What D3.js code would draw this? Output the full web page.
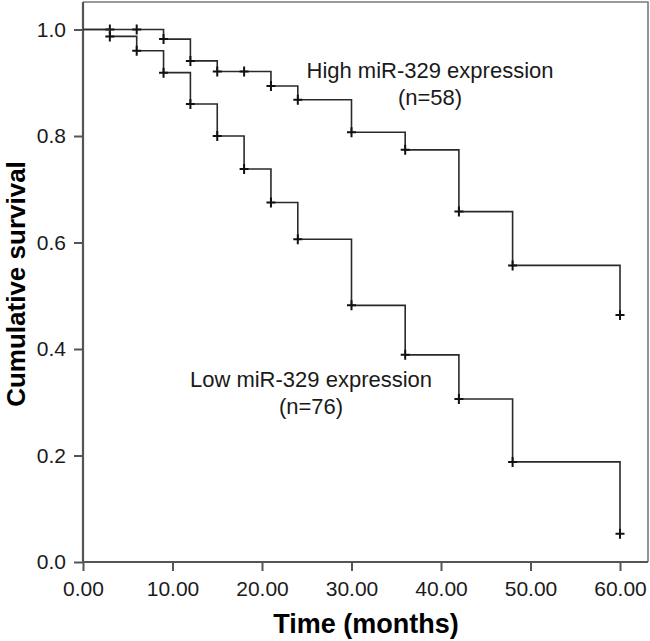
<!DOCTYPE html>
<html>
<head>
<meta charset="utf-8">
<script src="https://cdn.jsdelivr.net/npm/d3@7"></script>
<style>
  body { margin: 0; background: #fff; }
  text { font-family: "Liberation Sans", Arial, sans-serif; }
</style>
</head>
<body>
<script>
// survival curves
var highTime = [0, 9, 12, 15, 21, 24, 30, 36, 42, 48, 60];
var highSurv = [1.0, 0.982, 0.941, 0.921, 0.894, 0.868, 0.807, 0.774, 0.658, 0.557, 0.464];
var highCensor = [3, 6, 9, 12, 15, 18, 21, 24, 30, 36, 42, 48, 60];

var lowTime = [0, 3, 6, 9, 12, 15, 18, 21, 24, 30, 36, 42, 48, 60];
var lowSurv = [1.0, 0.987, 0.960, 0.919, 0.860, 0.800, 0.738, 0.675, 0.606, 0.482, 0.389, 0.306, 0.188, 0.053];
var lowCensor = [3, 6, 9, 12, 15, 18, 21, 24, 30, 36, 42, 48, 60];

var xTicks = [0, 10, 20, 30, 40, 50, 60];
var yTicks = [0, 0.2, 0.4, 0.6, 0.8, 1.0];

var width = 650, height = 641;
// plot box edges (note: "top" is taken by window.top)
var pLeft = 83, pRight = 648, pTop = 2, pBottom = 562;

var svg = d3.select('body').append('svg')
  .attr('width', width)
  .attr('height', height);

var x = d3.scaleLinear().domain([0, 60 * (pRight - pLeft) / (620 - pLeft)]).range([pLeft, pRight]);
var y = d3.scaleLinear().domain([0, (pBottom - pTop) / 532.5]).range([pBottom, pTop]);

// frame (top + right lighter)
svg.append('path')
  .attr('d', 'M' + pLeft + ',' + pTop + 'H' + pRight + 'V' + pBottom)
  .attr('fill', 'none')
  .attr('stroke', '#7a7a7a')
  .attr('stroke-width', 1.6);

// axes
var xAxis = svg.append('g')
  .attr('transform', 'translate(0,' + pBottom + ')')
  .call(d3.axisBottom(x).tickValues(xTicks).tickFormat(d3.format('.2f')).tickSize(9).tickPadding(10));
var yAxis = svg.append('g')
  .attr('transform', 'translate(' + pLeft + ',0)')
  .call(d3.axisLeft(y).tickValues(yTicks).tickFormat(d3.format('.1f')).tickSize(9).tickPadding(8));

[xAxis, yAxis].forEach(function(a) {
  a.select('.domain').attr('stroke', '#555').attr('stroke-width', 2.2);
  a.selectAll('.tick line').attr('stroke', '#555').attr('stroke-width', 2);
  a.selectAll('.tick text')
    .attr('fill', '#1a1a1a')
    .style('font-size', '21px');
});
xAxis.select('.domain').attr('d', 'M' + pLeft + ',0H' + pRight);
yAxis.select('.domain').attr('d', 'M0,' + pTop + 'V' + pBottom);

// step curves
var line = d3.line().curve(d3.curveStepAfter);

function drawCurve(times, surv, censor) {
  var pts = times.map(function(t, i) { return [x(t), y(surv[i])]; });
  svg.append('path')
    .attr('d', line(pts))
    .attr('fill', 'none')
    .attr('stroke', '#2a2a2a')
    .attr('stroke-width', 1.6);

  censor.forEach(function(t) {
    var i = d3.bisectRight(times, t) - 1;
    var cx = x(t), cy = y(surv[i]);
    svg.append('path')
      .attr('d', 'M' + (cx - 4.5) + ',' + cy + 'H' + (cx + 4.5) + 'M' + cx + ',' + (cy - 5) + 'V' + (cy + 5))
      .attr('stroke', '#111')
      .attr('stroke-width', 2);
  });
}

drawCurve(highTime, highSurv, highCensor);
drawCurve(lowTime, lowSurv, lowCensor);

// labels
function label(txt, cx, cy) {
  svg.append('text')
    .attr('x', cx).attr('y', cy)
    .attr('text-anchor', 'middle')
    .attr('fill', '#1a1a1a')
    .style('font-size', '22px')
    .text(txt);
}
label('High miR-329 expression', 430, 78);
label('(n=58)', 430, 105);
label('Low miR-329 expression', 311, 387);
label('(n=76)', 311, 414);

svg.append('text')
  .attr('x', 366).attr('y', 633)
  .attr('text-anchor', 'middle')
  .style('font-size', '27px')
  .style('font-weight', 'bold')
  .text('Time (months)');

svg.append('text')
  .attr('transform', 'translate(24.5,284) rotate(-90)')
  .attr('text-anchor', 'middle')
  .style('font-size', '26px')
  .style('font-weight', 'bold')
  .text('Cumulative survival');
</script>
</body>
</html>
